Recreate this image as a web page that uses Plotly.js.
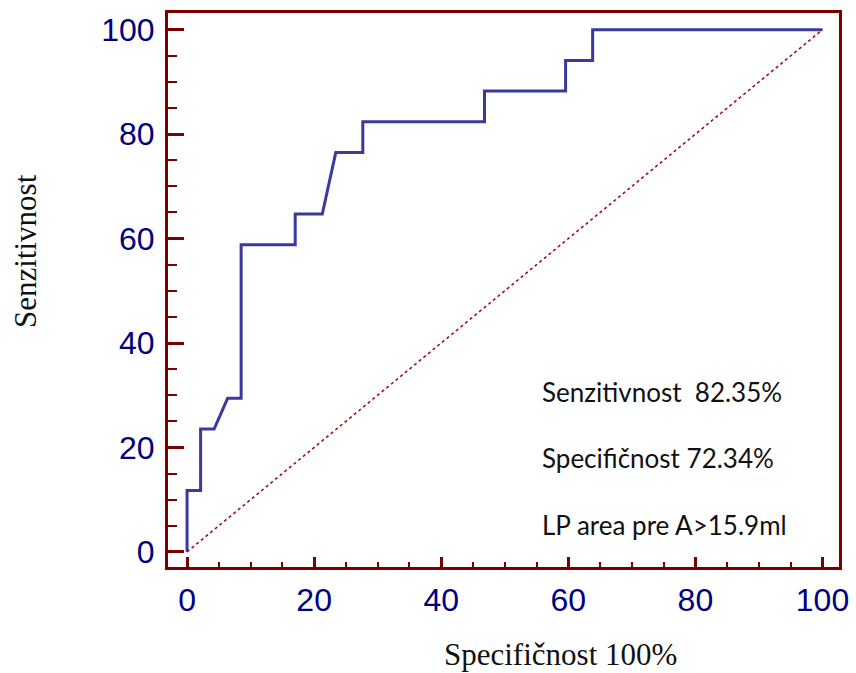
<!DOCTYPE html>
<html>
<head>
<meta charset="utf-8">
<script src="https://cdn.plot.ly/plotly-3.0.1.min.js"></script>
<style>html,body{margin:0;padding:0;background:#fff;}#chart{width:856px;height:673px;}</style>
</head>
<body>
<div id="chart"></div>
<script>
// ROC curve: 100 - specificity (x) vs sensitivity (y)
var fpr = [0, 0, 2.13, 2.13, 4.26, 6.38, 8.51, 8.51, 17.02, 17.02, 21.28, 23.40, 27.66, 27.66, 46.81, 46.81, 59.57, 59.57, 63.83, 63.83, 100];
var tpr = [0, 11.76, 11.76, 23.53, 23.53, 29.41, 29.41, 58.82, 58.82, 64.71, 64.71, 76.47, 76.47, 82.35, 82.35, 88.24, 88.24, 94.12, 94.12, 100, 100];
var refX = [0, 100];
var refY = [0, 100];
var tickVals = [0, 20, 40, 60, 80, 100];
var tickText = ["0", "20", "40", "60", "80", "100"];
var infoLines = ["Senzitivnost  82.35%", "Specifičnost 72.34%", "LP area pre A>15.9ml"];
var xTitle = "Specifičnost 100%";
var yTitle = "Senzitivnost";

var frame = "#7a0000";
var traces = [
  {x: refX, y: refY, mode: "lines", line: {color: "#a01010", width: 1.6, dash: "dot"}, hoverinfo: "skip"},
  {x: fpr, y: tpr, mode: "lines", line: {color: "#3a3a9e", width: 3}, hoverinfo: "skip"}
];

var annots = [];
var infoY = [30.6, 17.9, 5.1];
for (var i = 0; i < infoLines.length; i++) {
  annots.push({x: 55.6, y: infoY[i], xref: "x", yref: "y", text: infoLines[i], showarrow: false,
    xanchor: "left", yanchor: "middle", font: {family: "Lato, 'Open Sans', sans-serif", size: 26, color: "#111"}});
}
annots.push({xref: "paper", yref: "paper", x: (560 - 168) / 671, y: -(654 - 567) / 554, text: xTitle, showarrow: false,
  xanchor: "center", yanchor: "middle", borderpad: 0, font: {family: "'Liberation Serif', 'Times New Roman', serif", size: 31, color: "#111"}});
annots.push({xref: "paper", yref: "paper", x: -(168 - 25) / 671, y: (567 - 251) / 554, text: yTitle, showarrow: false, textangle: -90,
  xanchor: "center", yanchor: "middle", font: {family: "'Liberation Serif', 'Times New Roman', serif", size: 31, color: "#111"}});

var axisCommon = {
  showgrid: false, zeroline: false, showline: true, mirror: true, linecolor: frame, linewidth: 3,
  ticks: "inside", tickcolor: frame, tickwidth: 3,
  tickmode: "array", tickvals: tickVals, ticktext: tickText,
  tickfont: {family: "'Liberation Sans', Arial, sans-serif", size: 32, color: "#000080"},
  minor: {ticks: "inside", dtick: 5, tick0: 0, ticklen: 5, tickwidth: 2, tickcolor: frame}
};

var layout = {
  width: 856, height: 673,
  margin: {l: 168, r: 17, t: 13, b: 106},
  paper_bgcolor: "#fff", plot_bgcolor: "#fff",
  showlegend: false,
  xaxis: Object.assign({}, axisCommon, {range: [-3, 102.6], ticklen: 10, ticklabelstandoff: 3}),
  yaxis: Object.assign({}, axisCommon, {range: [-2.9, 103.2], ticklen: 16, ticklabelstandoff: 4,
    minor: {ticks: "inside", dtick: 5, tick0: 0, ticklen: 9, tickwidth: 2, tickcolor: frame}}),
  annotations: annots
};

Plotly.newPlot("chart", traces, layout, {staticPlot: true, displayModeBar: false});
</script>
</body>
</html>
